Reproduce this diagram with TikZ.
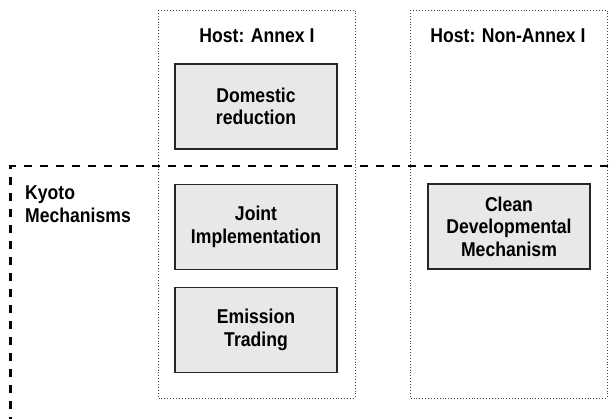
\documentclass[tikz,border=0pt]{standalone}
\usepackage{fontspec}
\setmainfont[FakeStretch=0.88]{Liberation Sans}
\begin{document}
\begin{tikzpicture}[x=1pt,y=-1pt,
  hostbox/.style={draw=black!75,line width=0.9pt,dotted},
  mechbox/.style={draw=black!85,line width=1.4pt,fill=gray!18,minimum width=162pt,minimum height=85pt,inner sep=0pt,align=center,font=\fontsize{20}{22.5}\selectfont\bfseries},
  lbl/.style={font=\fontsize{20}{23}\selectfont\bfseries,inner sep=0pt},
  kyoto/.style={draw=black,line width=2.7pt,dash pattern=on 8pt off 8pt}]
\useasboundingbox (0,0) rectangle (616,419);
\draw[hostbox] (158,10) rectangle (355,398);
\draw[hostbox] (410,10) rectangle (607,398);
\node[lbl,anchor=base] (h1) at (257,43) {Host: Annex I};
\node[lbl,anchor=base] (h2) at (508,43) {Host: Non-Annex I};
\node[mechbox] (dom) at (256,106.5) {Domestic\\reduction};
\node[mechbox] (ji) at (256,227) {Joint\\Implementation};
\node[mechbox] (et) at (256,330) {Emission\\Trading};
\node[mechbox] (cdm) at (509,226.5) {Clean\\Developmental\\Mechanism};
\coordinate (k1) at (608,166);
\coordinate (k2) at (10.7,166);
\coordinate (k3) at (10.7,421);
\draw[kyoto] (k1) -- (k2) -- (k3);
\node[lbl,anchor=north west,align=left] (km) at (25,186) {Kyoto\\Mechanisms};
\end{tikzpicture}
\end{document}
